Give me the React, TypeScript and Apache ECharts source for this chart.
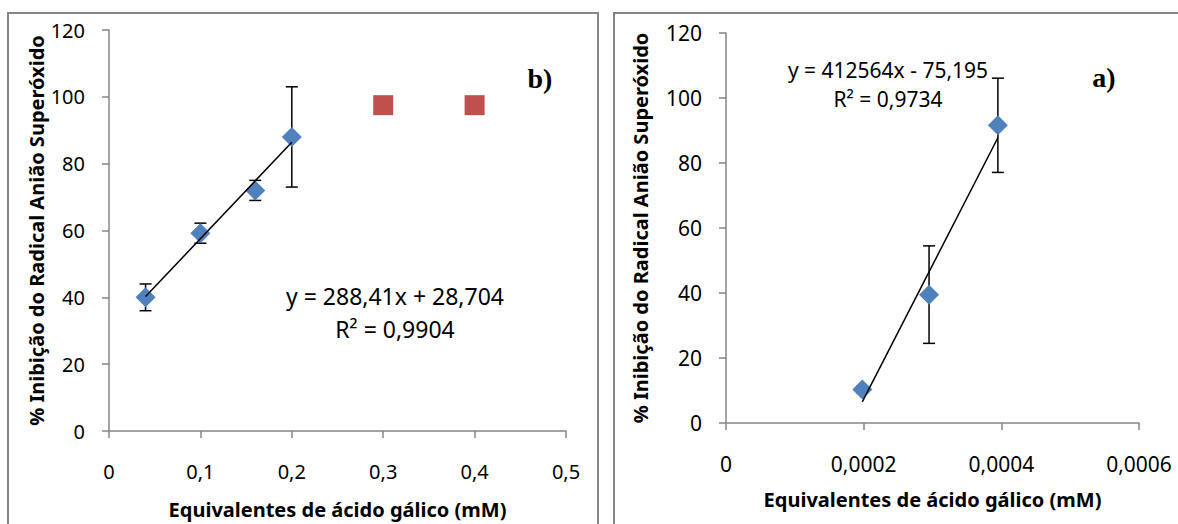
import React, { useEffect, useRef } from "react";
import * as echarts from "echarts";

// ---- Panel b (left) ----
const xB = [0.04, 0.1, 0.16, 0.2];
const yB = [40, 59.2, 72, 88];
const errB = [4, 3, 3, 15];
const xBRed = [0.3, 0.4];
const yBRed = [97.5, 97.5];
const slopeB = 288.41;
const interceptB = 28.704;
const eqB = ["y = 288,41x + 28,704", "R² = 0,9904"];
const xTicksB = { min: 0, max: 0.5, interval: 0.1, decimals: 1 };

// ---- Panel a (right) ----
const xA = [0.000198, 0.000295, 0.000395];
const yA = [10.3, 39.5, 91.6];
const errA = [1, 15, 14.5];
const slopeA = 412564;
const interceptA = -75.195;
const eqA = ["y = 412564x - 75,195", "R² = 0,9734"];
const xTicksA = { min: 0, max: 0.0006, interval: 0.0002, decimals: 4 };

const yTicks = { min: 0, max: 120, interval: 20 };

const xTitle = "Equivalentes de ácido gálico (mM)";
const yTitle = "% Inibição do Radical Anião Superóxido";

const BLUE = "#4F81BD";
const RED = "#C0504D";
const AXIS = "#868686";
const FONT = "'Noto Sans', sans-serif";

const fmt = (d: number) => (v: number) =>
  v === 0 ? "0" : v.toFixed(d).replace(/0+$/, "").replace(".", ",");

function errorRender(params: any, api: any) {
  const x = api.value(0);
  const lo = api.coord([x, api.value(1)]);
  const hi = api.coord([x, api.value(2)]);
  const cap = 6;
  const st = { stroke: "#000", lineWidth: 1.5 };
  return {
    type: "group",
    children: [
      { type: "line", shape: { x1: hi[0], y1: hi[1], x2: lo[0], y2: lo[1] }, style: st },
      { type: "line", shape: { x1: hi[0] - cap, y1: hi[1], x2: hi[0] + cap, y2: hi[1] }, style: st },
      { type: "line", shape: { x1: lo[0] - cap, y1: lo[1], x2: lo[0] + cap, y2: lo[1] }, style: st },
    ],
  };
}

function xAxisCfg(idx: number, t: any, fs: number, gap: number) {
  return {
    type: "value",
    gridIndex: idx,
    min: t.min,
    max: t.max,
    interval: t.interval,
    name: xTitle,
    nameLocation: "middle",
    nameGap: gap,
    nameTextStyle: { fontFamily: FONT, fontSize: 20, fontWeight: "bold", color: "#000" },
    axisLine: { show: true, onZero: false, lineStyle: { color: AXIS, width: 1.5 } },
    axisTick: { show: true, inside: false, length: 7, lineStyle: { color: AXIS, width: 1.5 } },
    axisLabel: { fontFamily: FONT, fontSize: fs, color: "#000", margin: 30, formatter: fmt(t.decimals) },
    splitLine: { show: false },
  };
}

function yAxisCfg(idx: number, fs: number, gap: number) {
  return {
    type: "value",
    gridIndex: idx,
    min: yTicks.min,
    max: yTicks.max,
    interval: yTicks.interval,
    name: yTitle,
    nameLocation: "middle",
    nameGap: gap,
    nameTextStyle: { fontFamily: FONT, fontSize: 20, fontWeight: "bold", color: "#000" },
    axisLine: { show: true, lineStyle: { color: AXIS, width: 1.5 } },
    axisTick: { show: true, inside: false, length: 7, lineStyle: { color: AXIS, width: 1.5 } },
    axisLabel: { fontFamily: FONT, fontSize: fs, color: "#000", margin: 24 },
    splitLine: { show: false },
  };
}

export default function App() {
  const ref = useRef<HTMLDivElement>(null);
  useEffect(() => {
    document.body.style.margin = "0";
    const chart = echarts.init(ref.current!, null, { renderer: "svg" });
    const trendB = [xB[0], xB[xB.length - 1]].map((x) => [x, slopeB * x + interceptB]);
    const trendA = [xA[0], xA[xA.length - 1]].map((x) => [x, slopeA * x + interceptA]);
    chart.setOption({
      animation: false,
      backgroundColor: "#fff",
      grid: [
        { left: 109, right: 612, top: 30, bottom: 93 },
        { left: 726, right: 39, top: 33, bottom: 101 },
      ],
      xAxis: [xAxisCfg(0, xTicksB, 20, 68), xAxisCfg(1, xTicksA, 21, 66)],
      yAxis: [yAxisCfg(0, 20, 62), yAxisCfg(1, 21, 76)],
      graphic: [
        { type: "rect", shape: { x: 8, y: 13, width: 590, height: 600 }, style: { fill: "none", stroke: AXIS, lineWidth: 2 }, silent: true },
        { type: "rect", shape: { x: 614, y: 13, width: 700, height: 600 }, style: { fill: "none", stroke: AXIS, lineWidth: 2 }, silent: true },
        { type: "text", x: 395, y: 296, style: { text: eqB[0], font: `23px ${FONT}`, fill: "#000", textAlign: "center", textVerticalAlign: "middle" } },
        { type: "text", x: 395, y: 329, style: { text: eqB[1], font: `23px ${FONT}`, fill: "#000", textAlign: "center", textVerticalAlign: "middle" } },
        { type: "text", x: 888, y: 70, style: { text: eqA[0], font: `21px ${FONT}`, fill: "#000", textAlign: "center", textVerticalAlign: "middle" } },
        { type: "text", x: 888, y: 99, style: { text: eqA[1], font: `21px ${FONT}`, fill: "#000", textAlign: "center", textVerticalAlign: "middle" } },
        { type: "text", x: 540, y: 78, style: { text: "b)", font: `bold 28px 'Liberation Serif', serif`, fill: "#000", textAlign: "center", textVerticalAlign: "middle" } },
        { type: "text", x: 1104, y: 77, style: { text: "a)", font: `bold 28px 'Liberation Serif', serif`, fill: "#000", textAlign: "center", textVerticalAlign: "middle" } },
      ],
      series: [
        {
          type: "custom",
          xAxisIndex: 0,
          yAxisIndex: 0,
          renderItem: errorRender,
          encode: { x: 0, y: [1, 2] },
          data: xB.map((x, i) => [x, yB[i] - errB[i], yB[i] + errB[i]]),
          z: 1,
        },
        {
          type: "scatter",
          xAxisIndex: 0,
          yAxisIndex: 0,
          symbol: "diamond",
          symbolSize: [20, 20],
          itemStyle: { color: BLUE, opacity: 1 },
          data: xB.map((x, i) => [x, yB[i]]),
          z: 2,
        },
        {
          type: "scatter",
          xAxisIndex: 0,
          yAxisIndex: 0,
          symbol: "rect",
          symbolSize: 20,
          itemStyle: { color: RED, opacity: 1 },
          data: xBRed.map((x, i) => [x, yBRed[i]]),
          z: 2,
        },
        {
          type: "line",
          xAxisIndex: 0,
          yAxisIndex: 0,
          symbol: "none",
          lineStyle: { color: "#000", width: 1.5 },
          data: trendB,
          z: 3,
        },
        {
          type: "custom",
          xAxisIndex: 1,
          yAxisIndex: 1,
          renderItem: errorRender,
          encode: { x: 0, y: [1, 2] },
          data: xA.map((x, i) => [x, yA[i] - errA[i], yA[i] + errA[i]]),
          z: 1,
        },
        {
          type: "scatter",
          xAxisIndex: 1,
          yAxisIndex: 1,
          symbol: "diamond",
          symbolSize: [20, 20],
          itemStyle: { color: BLUE, opacity: 1 },
          data: xA.map((x, i) => [x, yA[i]]),
          z: 2,
        },
        {
          type: "line",
          xAxisIndex: 1,
          yAxisIndex: 1,
          symbol: "none",
          lineStyle: { color: "#000", width: 1.5 },
          data: trendA,
          z: 3,
        },
      ],
    });
    return () => chart.dispose();
  }, []);
  return <div ref={ref} style={{ width: 1178, height: 524 }} />;
}
